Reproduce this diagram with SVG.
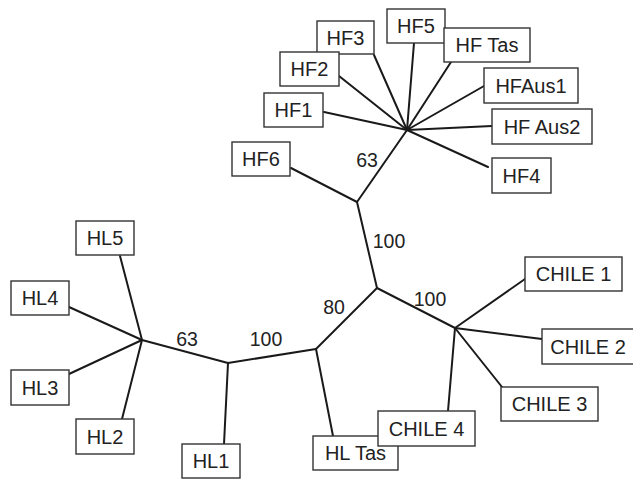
<svg xmlns="http://www.w3.org/2000/svg" width="633" height="480" viewBox="0 0 633 480">
  <style>
    .edge { stroke: #1a1a1a; stroke-width: 2; fill: none; stroke-linecap: round; }
    .box rect { fill: #ffffff; stroke: #333333; stroke-width: 1.4; }
    text { font-family: "Liberation Sans", Arial, sans-serif; font-size: 20px; fill: #222222; }
    .box text { text-anchor: middle; }
    .support { text-anchor: middle; font-size: 19.5px; }
  </style>
  <rect x="0" y="0" width="633" height="480" fill="#ffffff"/>

  <!-- tree branches -->
  <g id="connectors">
    <!-- HF cluster hub -->
    <line class="edge" x1="407" y1="130" x2="374" y2="55"/>
    <line class="edge" x1="407" y1="130" x2="414" y2="43"/>
    <line class="edge" x1="407" y1="130" x2="451" y2="62"/>
    <line class="edge" x1="407" y1="130" x2="484" y2="86"/>
    <line class="edge" x1="407" y1="130" x2="492" y2="126"/>
    <line class="edge" x1="407" y1="130" x2="488" y2="167"/>
    <line class="edge" x1="407" y1="130" x2="339" y2="76"/>
    <line class="edge" x1="407" y1="130" x2="324" y2="112"/>
    <line class="edge" x1="407" y1="130" x2="357" y2="202"/>
    <!-- internal branches -->
    <line class="edge" x1="357" y1="202" x2="291" y2="168"/>
    <line class="edge" x1="357" y1="202" x2="377" y2="288"/>
    <line class="edge" x1="377" y1="288" x2="455" y2="328"/>
    <line class="edge" x1="377" y1="288" x2="316" y2="349"/>
    <line class="edge" x1="316" y1="349" x2="333" y2="436"/>
    <line class="edge" x1="316" y1="349" x2="228" y2="363"/>
    <line class="edge" x1="228" y1="363" x2="224" y2="444"/>
    <line class="edge" x1="228" y1="363" x2="142" y2="340"/>
    <!-- HL cluster hub -->
    <line class="edge" x1="142" y1="340" x2="120" y2="256"/>
    <line class="edge" x1="142" y1="340" x2="69" y2="307"/>
    <line class="edge" x1="142" y1="340" x2="69" y2="374"/>
    <line class="edge" x1="142" y1="340" x2="122" y2="419"/>
    <!-- CHILE cluster hub -->
    <line class="edge" x1="455" y1="328" x2="525" y2="279"/>
    <line class="edge" x1="455" y1="328" x2="542" y2="339"/>
    <line class="edge" x1="455" y1="328" x2="502" y2="387"/>
    <line class="edge" x1="455" y1="328" x2="448" y2="411"/>
  </g>

  <!-- bootstrap support values -->
  <g id="support-values">
    <text class="support" x="367" y="167">63</text>
    <text class="support" x="389" y="248">100</text>
    <text class="support" x="334" y="314">80</text>
    <text class="support" x="430" y="306">100</text>
    <text class="support" x="266" y="346">100</text>
    <text class="support" x="187" y="346">63</text>
  </g>

  <!-- leaf labels -->
  <g id="HF3" class="box"><rect x="317" y="21" width="57" height="33"/><text x="345.5" y="45">HF3</text></g>
  <g id="HF2" class="box"><rect x="280" y="52" width="59" height="34"/><text x="309.5" y="76">HF2</text></g>
  <g id="HF5" class="box"><rect x="387" y="9" width="58" height="34"/><text x="416" y="33">HF5</text></g>
  <g id="HFTas" class="box"><rect x="444" y="28" width="86" height="34"/><text x="487" y="52">HF Tas</text></g>
  <g id="HF1" class="box"><rect x="264" y="93" width="59" height="34"/><text x="293.5" y="117">HF1</text></g>
  <g id="HFAus1" class="box"><rect x="484" y="68" width="94" height="35"/><text x="531" y="93">HFAus1</text></g>
  <g id="HFAus2" class="box"><rect x="492" y="109" width="100" height="35"/><text x="542" y="134">HF Aus2</text></g>
  <g id="HF4" class="box"><rect x="492" y="158" width="59" height="35"/><text x="521.5" y="183">HF4</text></g>
  <g id="HF6" class="box"><rect x="232" y="142" width="58" height="34"/><text x="261" y="166">HF6</text></g>
  <g id="HL5" class="box"><rect x="76" y="221" width="58" height="34"/><text x="105" y="245">HL5</text></g>
  <g id="HL4" class="box"><rect x="11" y="281" width="58" height="34"/><text x="40" y="305">HL4</text></g>
  <g id="HL3" class="box"><rect x="11" y="370" width="58" height="35"/><text x="40" y="395">HL3</text></g>
  <g id="HL2" class="box"><rect x="76" y="419" width="58" height="35"/><text x="105" y="444">HL2</text></g>
  <g id="HL1" class="box"><rect x="182" y="444" width="58" height="34"/><text x="211" y="468">HL1</text></g>
  <g id="HLTas" class="box"><rect x="313" y="436" width="85" height="34"/><text x="355.5" y="460">HL Tas</text></g>
  <g id="CHILE4" class="box"><rect x="378" y="411" width="97" height="35"/><text x="426.5" y="436">CHILE 4</text></g>
  <g id="CHILE1" class="box"><rect x="525" y="257" width="97" height="34"/><text x="573.5" y="281">CHILE 1</text></g>
  <g id="CHILE2" class="box"><rect x="542" y="329" width="97" height="35"/><text x="588" y="354">CHILE 2</text></g>
  <g id="CHILE3" class="box"><rect x="501" y="387" width="97" height="34"/><text x="549.5" y="411">CHILE 3</text></g>
</svg>
